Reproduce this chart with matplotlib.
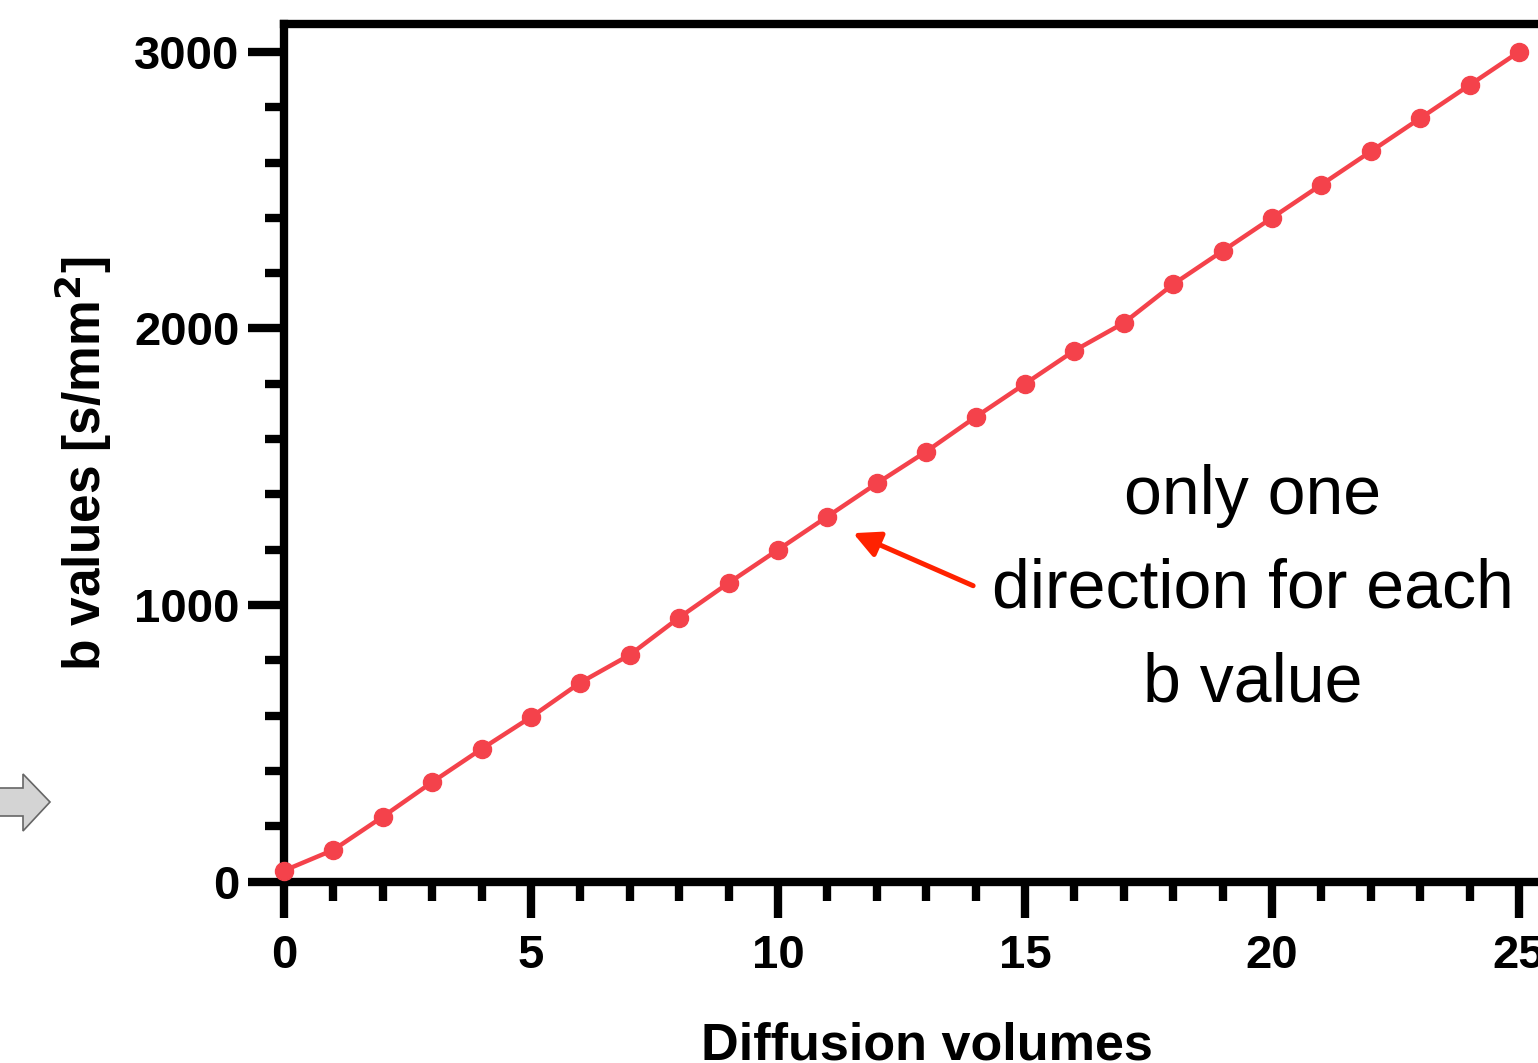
import matplotlib
matplotlib.use("Agg")
import matplotlib.pyplot as plt
from matplotlib.patches import Polygon
from matplotlib.ticker import MultipleLocator
from matplotlib.transforms import Affine2D

W, H = 1538, 1063
RED = "#f4424b"
ARROW_RED = "#ff2200"

# b value per diffusion volume
volumes = list(range(26))
b_values = [40, 115, 235, 360, 480, 595, 720, 820, 955, 1080, 1200, 1320, 1440,
            1555, 1680, 1800, 1920, 2020, 2160, 2280, 2400, 2520, 2640, 2760,
            2880, 3000]

note = "only one\ndirection for each\nb value"

plt.rcParams["font.family"] = ["Liberation Sans", "DejaVu Sans"]

fig = plt.figure(figsize=(W / 100, H / 100), dpi=100)
ax = fig.add_axes([284 / W, 181.3 / H, 1284.4 / W, 857.5 / H])

ax.plot(volumes, b_values, color=RED, lw=3.2, marker="o", ms=13,
        clip_on=False, zorder=5)

ax.set_xlim(0, 26)
ax.set_ylim(0, 3100)
ax.xaxis.set_major_locator(MultipleLocator(5))
ax.xaxis.set_minor_locator(MultipleLocator(1))
ax.yaxis.set_major_locator(MultipleLocator(1000))
ax.yaxis.set_minor_locator(MultipleLocator(200))

for s in ax.spines.values():
    s.set_linewidth(6)
ax.tick_params(which="major", length=26, width=6, direction="out")
ax.tick_params(which="minor", length=14, width=6, direction="out")
ax.tick_params(axis="y", which="major", pad=6)
ax.tick_params(axis="x", which="major", pad=12)
for lab in ax.get_xticklabels() + ax.get_yticklabels():
    lab.set_fontsize(34)
    lab.set_fontweight("bold")

fig.text(83 / W, 1 - 464 / H, r"b values [s/mm$^\mathbf{2}$]", rotation=90,
         ha="center", va="center", fontsize=37, fontweight="bold")
fig.text(927 / W, 1 - 1059 / H, "Diffusion volumes", ha="center",
         va="baseline", fontsize=37.5, fontweight="bold")

# callout pointing at the curve
ax.annotate("", xy=(11.52, 1260), xytext=(13.95, 1070),
            arrowprops=dict(arrowstyle="-|>", color=ARROW_RED, lw=3.6,
                            mutation_scale=40, shrinkA=0, shrinkB=0))
fig.text(1253 / W, 1 - 590 / H, note, ha="center", va="center",
         multialignment="center", fontsize=49, linespacing=1.6)

# grey block arrow on the left edge (pixel coordinates, y from top)
px = Affine2D().scale(1, -1).translate(0, H)
shape = [(-5, 788), (23, 788), (23, 774), (50, 802), (23, 831), (23, 816), (-5, 816)]
fig.patches.append(Polygon(shape, closed=True, facecolor="#d4d4d4",
                           edgecolor="#666666", lw=1.2, transform=px, figure=fig))

fig.savefig("out.png", dpi=100)
